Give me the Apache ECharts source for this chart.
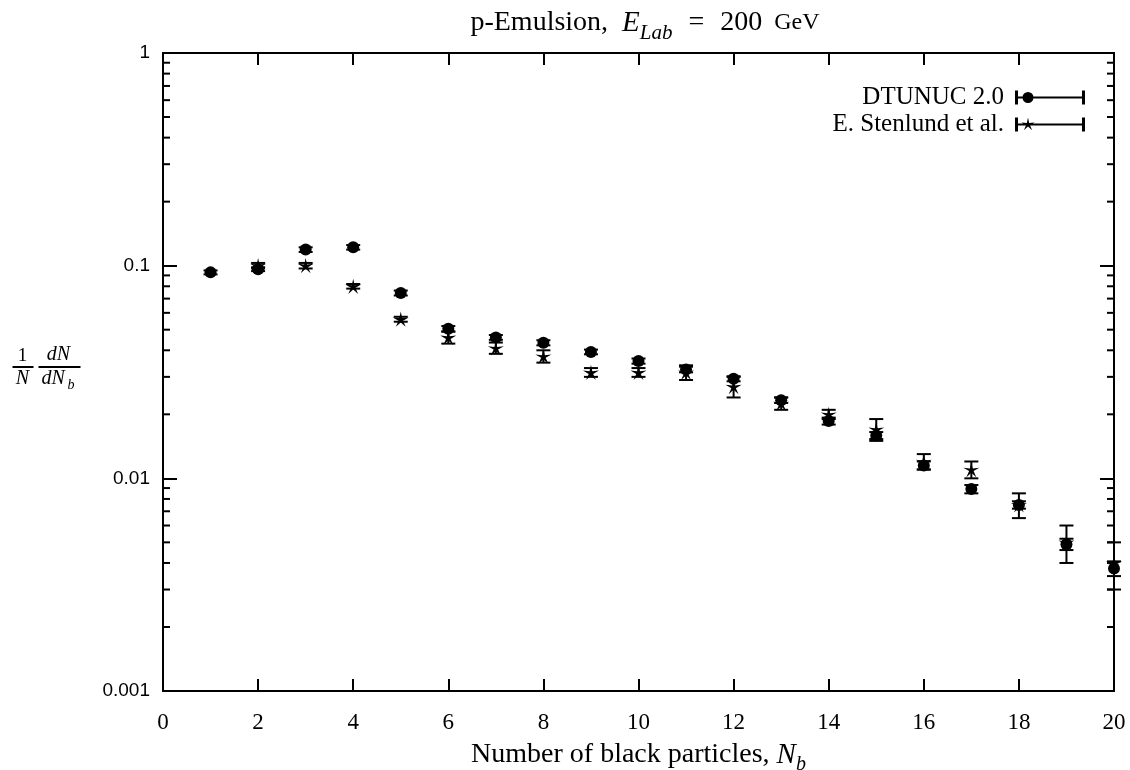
<!DOCTYPE html>
<html>
<head>
<meta charset="utf-8">
<title>p-Emulsion black particle multiplicity</title>
<script src="https://cdn.jsdelivr.net/npm/echarts@6/dist/echarts.min.js"></script>
<style>
  html, body { margin: 0; padding: 0; background: #fff; }
  #chart { width: 1130px; height: 770px; }
</style>
</head>
<body>
<div id="chart"></div>
<script>
// Number of black particles N_b
const nbModel = [1, 2, 3, 4, 5, 6, 7, 8, 9, 10, 11, 12, 13, 14, 15, 16, 17, 18, 19, 20];
// DTUNUC 2.0: (1/N) dN/dN_b and its uncertainty
const dtunucValues = [0.093, 0.0963, 0.119, 0.122, 0.0744, 0.0505, 0.046, 0.0434, 0.0393, 0.0356,
                      0.0325, 0.0294, 0.0233, 0.0186, 0.0159, 0.0115, 0.0089, 0.0075, 0.0049, 0.00377];
const dtunucErrors = [0.002, 0.002, 0.003, 0.003, 0.002, 0.0015, 0.0012, 0.0012, 0.001, 0.001,
                      0.001, 0.0008, 0.0007, 0.0007, 0.0006, 0.0005, 0.0004, 0.0003, 0.0003, 0.0003];

// E. Stenlund et al. measurement
const nbData = [2, 3, 4, 5, 6, 7, 8, 9, 10, 11, 12, 13, 14, 15, 16, 17, 18, 19, 20];
const stenlundValues = [0.1, 0.1, 0.08, 0.056, 0.046, 0.041, 0.0375, 0.0315, 0.0315, 0.0315,
                        0.027, 0.0225, 0.020, 0.017, 0.012, 0.011, 0.0075, 0.005, 0.004];
const stenlundErrors = [0.003, 0.003, 0.002, 0.0015, 0.003, 0.0025, 0.0025, 0.0015, 0.0015, 0.0025,
                        0.003, 0.0015, 0.001, 0.002, 0.001, 0.001, 0.001, 0.001, 0.001];

// Axis ticks
const yMajorTicks = [0.001, 0.01, 0.1, 1];
const yMinorTicks = [0.002, 0.003, 0.004, 0.005, 0.006, 0.007, 0.008, 0.009,
                     0.02, 0.03, 0.04, 0.05, 0.06, 0.07, 0.08, 0.09,
                     0.2, 0.3, 0.4, 0.5, 0.6, 0.7, 0.8, 0.9];

const SERIF = '"Liberation Serif", "DejaVu Serif", serif';
const SANS = '"Liberation Sans", "DejaVu Sans", sans-serif';

// thin five-pointed star used as marker
const STAR = 'path://M0,-10 L1.646,-2.265 L9.511,-3.09 L2.663,0.865 L5.878,8.09 L0,2.8 L-5.878,8.09 L-2.663,0.865 L-9.511,-3.09 L-1.646,-2.265 Z';

// legend samples: error bar with end caps and the marker
const ICON_CIRCLE = 'path://M0,0 h3 v14 h-3 z M0,6 h70 v2 h-70 z M67,0 h3 v14 h-3 z ' +
  'M7.5,7 a5.5,5.5 0 1,1 11,0 a5.5,5.5 0 1,1 -11,0 z';
const ICON_STAR = 'path://M0,0 h3 v14 h-3 z M0,6 h70 v2 h-70 z M67,0 h3 v14 h-3 z ' +
  'M13,0 L14.15,5.4 L19.7,5.0 L14.9,7.6 L17.1,12.7 L13,9 L8.9,12.7 L11.1,7.6 L6.3,5.0 L11.85,5.4 Z';

const modelPoints = nbModel.map((n, i) => [n, dtunucValues[i]]);
const modelBars = nbModel.map((n, i) => [n, dtunucValues[i] - dtunucErrors[i], dtunucValues[i] + dtunucErrors[i]]);
const dataPoints = nbData.map((n, i) => [n, stenlundValues[i]]);
const dataBars = nbData.map((n, i) => [n, stenlundValues[i] - stenlundErrors[i], stenlundValues[i] + stenlundErrors[i]]);

function errorBar(params, api) {
  const x = api.value(0);
  const lo = api.coord([x, api.value(1)]);
  const hi = api.coord([x, api.value(2)]);
  const w = 7;
  const st = { stroke: '#000', lineWidth: 2 };
  return {
    type: 'group',
    children: [
      { type: 'line', shape: { x1: lo[0], y1: lo[1], x2: hi[0], y2: hi[1] }, style: st },
      { type: 'line', shape: { x1: lo[0] - w, y1: lo[1], x2: lo[0] + w, y2: lo[1] }, style: st },
      { type: 'line', shape: { x1: hi[0] - w, y1: hi[1], x2: hi[0] + w, y2: hi[1] }, style: st }
    ]
  };
}

// short minor ticks at 2..9 of every decade, on both vertical frame edges
function minorTick(params, api) {
  const cs = params.coordSys;
  const y = api.coord([0, api.value(1)])[1];
  const st = { stroke: '#000', lineWidth: 2 };
  return {
    type: 'group',
    children: [
      { type: 'line', shape: { x1: cs.x, y1: y, x2: cs.x + 7, y2: y }, style: st },
      { type: 'line', shape: { x1: cs.x + cs.width - 7, y1: y, x2: cs.x + cs.width, y2: y }, style: st }
    ]
  };
}

const chart = echarts.init(document.getElementById('chart'), null, { renderer: 'canvas' });

const xAxisCommon = {
  type: 'value', min: 0, max: 20, interval: 2,
  axisLine: { show: true, onZero: false, lineStyle: { color: '#000', width: 2 } },
  axisTick: { show: true, inside: true, length: 12, lineStyle: { color: '#000', width: 2 } },
  splitLine: { show: false }
};
const yAxisCommon = {
  type: 'log', logBase: 10, min: 0.001, max: 1,
  axisLine: { show: true, onZero: false, lineStyle: { color: '#000', width: 2 } },
  axisTick: { show: true, inside: true, length: 14, lineStyle: { color: '#000', width: 2 } },
  splitLine: { show: false },
  minorTick: { show: false }
};

const txt = (size, extra) => Object.assign({ fontFamily: SERIF, fontSize: size, fontWeight: 'normal', color: '#000' }, extra || {});

chart.setOption({
  animation: false,
  backgroundColor: '#fff',
  title: {
    text: '{r|p-Emulsion,}{i|E}{sub|Lab}{eq|=}{n|200}{g|GeV}',
    left: 640, top: 1, textAlign: 'center',
    textStyle: {
      fontWeight: 'normal',
      rich: {
        r: txt(28, { lineHeight: 34, verticalAlign: 'middle', padding: [0, 14, 0, 0] }),
        i: txt(29, { fontStyle: 'italic', lineHeight: 34, verticalAlign: 'middle' }),
        sub: txt(21, { fontStyle: 'italic', lineHeight: 21, verticalAlign: 'top', padding: [17, 16, 0, 0] }),
        eq: txt(28, { lineHeight: 34, verticalAlign: 'middle', padding: [0, 16, 0, 0] }),
        n: txt(28, { lineHeight: 34, verticalAlign: 'middle', padding: [0, 12, 0, 0] }),
        g: txt(24, { lineHeight: 34, verticalAlign: 'middle' })
      }
    }
  },
  legend: {
    orient: 'vertical',
    right: 40, top: 80,
    align: 'right',
    itemWidth: 70, itemHeight: 14, itemGap: 2,
    textStyle: txt(25, { padding: [0, 6, 0, 0] }),
    selectedMode: false,
    data: [
      { name: 'DTUNUC 2.0', icon: ICON_CIRCLE, itemStyle: { color: '#000' } },
      { name: 'E. Stenlund et al.', icon: ICON_STAR, itemStyle: { color: '#000' } }
    ]
  },
  grid: { left: 163, right: 16, top: 53, bottom: 79, outerBoundsMode: 'none', containLabel: false },
  xAxis: [
    Object.assign({}, xAxisCommon, {
      position: 'bottom',
      name: '{t|Number of black particles, }{i|N}{s|b}',
      nameLocation: 'middle', nameGap: 44,
      nameTextStyle: {
        rich: {
          t: txt(28, { lineHeight: 32, verticalAlign: 'middle' }),
          i: txt(29, { fontStyle: 'italic', lineHeight: 32, verticalAlign: 'middle' }),
          s: txt(20, { fontStyle: 'italic', lineHeight: 20, verticalAlign: 'top', padding: [16, 0, 0, 0] })
        }
      },
      axisLabel: { show: true, margin: 20, fontFamily: SERIF, fontSize: 23, color: '#000' }
    }),
    Object.assign({}, xAxisCommon, { position: 'top', axisLabel: { show: false } })
  ],
  yAxis: [
    Object.assign({}, yAxisCommon, {
      position: 'left',
      axisLabel: {
        show: true, margin: 13, fontFamily: SANS, fontSize: 19, color: '#000',
        formatter: v => {
          const hit = yMajorTicks.find(t => Math.abs(t - v) / t < 1e-6);
          return hit === undefined ? '' : String(hit);
        }
      }
    }),
    Object.assign({}, yAxisCommon, { position: 'right', axisLabel: { show: false } })
  ],
  graphic: [
    {
      type: 'group', left: 10, top: 345,
      children: [
        { type: 'text', x: 13, y: 14, style: { text: '1', fontFamily: SERIF, fontSize: 19, fill: '#000', align: 'center', verticalAlign: 'middle' } },
        { type: 'line', shape: { x1: 3, y1: 25, x2: 24, y2: 25 }, style: { stroke: '#000', lineWidth: 2 } },
        { type: 'text', x: 13, y: 37, style: { text: 'N', fontFamily: SERIF, fontSize: 20, fontStyle: 'italic', fill: '#000', align: 'center', verticalAlign: 'middle' } },
        { type: 'text', x: 49, y: 13, style: { text: 'dN', fontFamily: SERIF, fontSize: 20, fontStyle: 'italic', fill: '#000', align: 'center', verticalAlign: 'middle' } },
        { type: 'line', shape: { x1: 29, y1: 25, x2: 71, y2: 25 }, style: { stroke: '#000', lineWidth: 2 } },
        { type: 'text', x: 32, y: 37, style: { text: 'dN', fontFamily: SERIF, fontSize: 20, fontStyle: 'italic', fill: '#000', align: 'left', verticalAlign: 'middle' } },
        { type: 'text', x: 58, y: 43, style: { text: 'b', fontFamily: SERIF, fontSize: 14, fontStyle: 'italic', fill: '#000', align: 'left', verticalAlign: 'middle' } }
      ]
    }
  ],
  series: [
    {
      type: 'custom', name: 'DTUNUC 2.0', renderItem: errorBar,
      data: modelBars, encode: { x: 0, y: [1, 2] }, z: 2, silent: true
    },
    {
      type: 'scatter', name: 'DTUNUC 2.0', data: modelPoints,
      symbol: 'circle', symbolSize: 12,
      itemStyle: { color: '#000', opacity: 1 }, z: 3, silent: true
    },
    {
      type: 'custom', name: 'E. Stenlund et al.', renderItem: errorBar,
      data: dataBars, encode: { x: 0, y: [1, 2] }, z: 2, silent: true,
      itemStyle: { color: '#000' }
    },
    {
      type: 'scatter', name: 'E. Stenlund et al.', data: dataPoints,
      symbol: STAR, symbolSize: 16, symbolKeepAspect: true,
      itemStyle: { color: '#000', opacity: 1 }, z: 4, silent: true
    },
    {
      type: 'custom', renderItem: minorTick,
      data: yMinorTicks.map(v => [0, v]), encode: { x: 0, y: 1 }, z: 5, silent: true
    }
  ]
});
</script>
</body>
</html>
